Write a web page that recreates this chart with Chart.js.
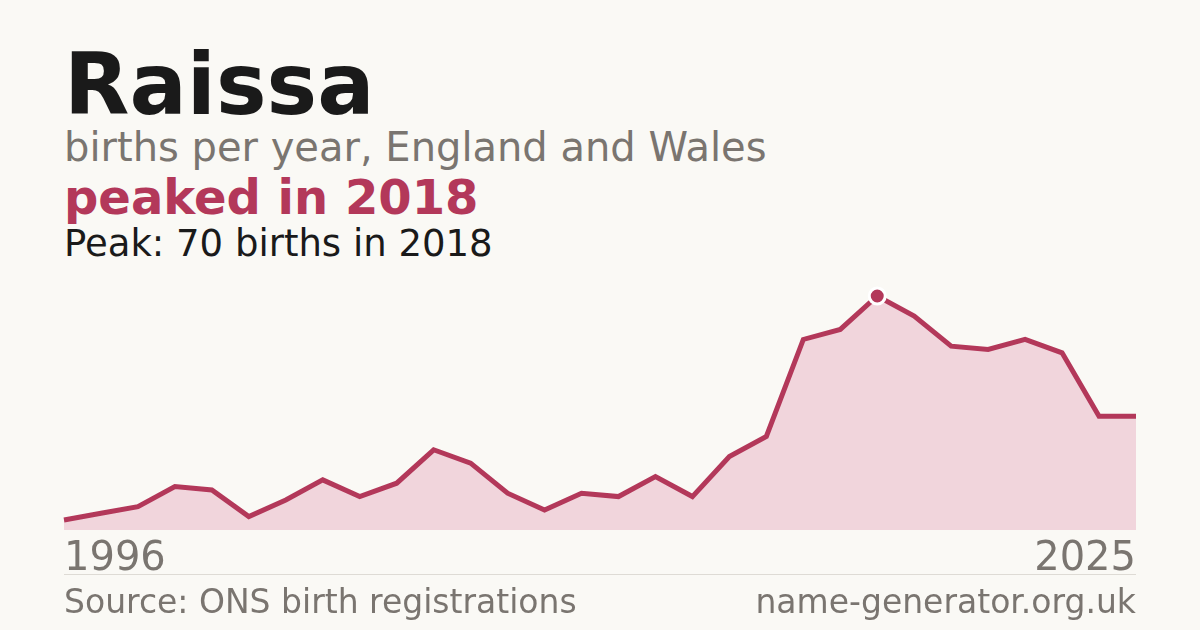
<!DOCTYPE html>
<html>
<head>
<meta charset="utf-8">
<script src="https://cdn.jsdelivr.net/npm/chart.js@4.4.1/dist/chart.umd.min.js"></script>
<style>
  html, body { margin:0; padding:0; }
  body { width:1200px; height:630px; background:#faf9f5; position:relative; overflow:hidden; font-family:"DejaVu Sans", sans-serif; }
  .t { position:absolute; left:64px; line-height:1; white-space:nowrap; }
  #title { top:42px; font-size:85px; font-weight:bold; color:#1a1a1a; }
  #sub { top:127px; font-size:40px; color:#7a7570; }
  #peaked { top:173px; font-size:48px; font-weight:bold; color:#b3385a; }
  #peak { top:225px; font-size:37px; color:#1a1a1a; }
  #rule { position:absolute; left:64px; top:574px; width:1072px; height:1px; background:#dedbd5; }
  #src { top:585px; font-size:33px; color:#7a7570; }
  #site { top:585px; font-size:33px; color:#7a7570; left:auto; right:64px; }
  #wrap { position:absolute; left:58px; top:280px; width:1084px; height:306px; }
</style>
</head>
<body>
<div class="t" id="title">Raissa</div>
<div class="t" id="sub">births per year, England and Wales</div>
<div class="t" id="peaked">peaked in 2018</div>
<div class="t" id="peak">Peak: 70 births in 2018</div>
<div id="wrap"><canvas id="c"></canvas></div>
<div id="rule"></div>
<div class="t" id="src">Source: ONS birth registrations</div>
<div class="t" id="site">name-generator.org.uk</div>
<script>
const years = [1996,1997,1998,1999,2000,2001,2002,2003,2004,2005,2006,2007,2008,2009,2010,2011,2012,2013,2014,2015,2016,2017,2018,2019,2020,2021,2022,2023,2024,2025];
const births = [3,5,7,13,12,4,9,15,10,14,24,20,11,6,11,10,16,10,22,28,57,60,70,64,55,54,57,53,34,34];
const peakYear = 2018;
const yMin = 0;
const yMax = 70;

const peakIdx = years.indexOf(peakYear);
const lineColor = '#b3385a';

new Chart(document.getElementById('c'), {
  type: 'line',
  data: {
    labels: years.map(String),
    datasets: [{
      data: births,
      borderColor: lineColor,
      borderWidth: 5,
      backgroundColor: '#f1d5dc',
      fill: 'origin',
      tension: 0,
      clip: false,
      pointRadius: ctx => ctx.dataIndex === peakIdx ? 8 : 0,
      pointHoverRadius: ctx => ctx.dataIndex === peakIdx ? 8 : 0,
      pointBackgroundColor: lineColor,
      pointBorderColor: '#ffffff',
      pointBorderWidth: 3
    }]
  },
  options: {
    responsive: true,
    maintainAspectRatio: false,
    animation: false,
    events: [],
    layout: { padding: { top: 16, left: 0, right: 0, bottom: 0 } },
    plugins: { legend: { display: false }, tooltip: { enabled: false } },
    scales: {
      x: {
        offset: false,
        grid: { display: false, drawTicks: false },
        border: { display: false },
        afterFit: s => { s.height = 56; },
        ticks: {
          autoSkip: false,
          maxRotation: 0,
          minRotation: 0,
          align: 'inner',
          padding: 6,
          color: '#7a7570',
          font: { family: 'DejaVu Sans', size: 40 },
          callback: (v, i) => (i === 0 || i === years.length - 1) ? years[i] : ''
        }
      },
      y: {
        display: false,
        min: yMin,
        max: yMax
      }
    }
  }
});
</script>
</body>
</html>
